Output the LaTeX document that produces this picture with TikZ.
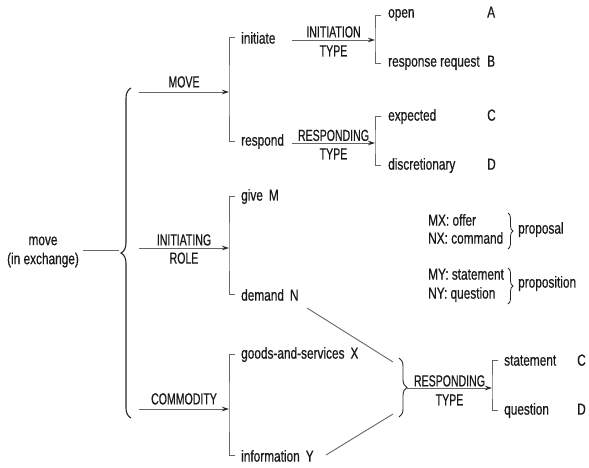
\documentclass[tikz,border=0pt]{standalone}
\usepackage{fontspec}
\setmainfont{Liberation Sans}[FakeStretch=0.74,FakeBold=0.6]
\newfontfamily\capf{Liberation Sans}[FakeStretch=0.66,FakeBold=0.6]
\usetikzlibrary{arrows.meta,decorations.pathreplacing,calc}
\begin{document}
\begin{tikzpicture}[x=1pt,y=-1pt,
  txt/.style={inner sep=0pt, font=\fontsize{16}{19}\selectfont, text=black!90},
  capslab/.style={txt, font=\capf\fontsize{16}{19}\selectfont},
  leaf/.style={txt, anchor=mid west},
  ln/.style={draw=black!60, line width=0.9pt},
  arr/.style={ln, -{Stealth[length=7pt,width=4.5pt,color=black!85]}},
  bk/.style={draw=black!60, line width=0.9pt},
  bigbrace/.style={draw=black!85, line width=1.1pt, decorate, decoration={brace, amplitude=#1}}]
\useasboundingbox (0,0) rectangle (589,467);

% root
\node[txt, align=center] (root) at (43,252) {move\\(in exchange)};
\coordinate (bigtip) at (119,250);
\draw[ln] (83,250) coordinate (rootR) -- (bigtip);
\coordinate (bbBot) at (131,418);
\coordinate (bbTop) at (131,88);
\draw[bigbrace=10pt] (bbBot) -- (bbTop);

% first-level systems
\coordinate (s1) at (139,92);  \coordinate (b1) at (229,92);
\coordinate (s2) at (139,248); \coordinate (b2) at (229,248);
\coordinate (s3) at (139,409); \coordinate (b3) at (229,409);
\draw[arr] (s1) -- node[capslab, above=4pt] (lmove) {MOVE} (b1);
\draw[arr] (s2) -- node[capslab, above=2pt] (linit) {INITIATING} node[capslab, below=4pt] (lrole) {ROLE} (b2);
\draw[arr] (s3) -- node[capslab, above=4pt] (lcomm) {COMMODITY} (b3);

\node[leaf] (initiate) at (241,41) {initiate};
\node[leaf] (respond) at (241,143) {respond};
\node[leaf] (give) at (241,198) {give\hspace{6pt}M};
\node[leaf] (demand) at (241,298) {demand\hspace{6pt}N};
\node[leaf] (goods) at (241,356) {goods-and-services\hspace{6pt}X};
\node[leaf] (info) at (241,459) {information\hspace{6pt}Y};

\draw[bk] ([xshift=-6pt]initiate.west) -| (b1) |- ([xshift=-6pt]respond.west);
\draw[bk] ([xshift=-6pt]give.west) -| (b2) |- ([xshift=-6pt]demand.west);
\draw[bk] ([xshift=-6pt]goods.west) -| (b3) |- ([xshift=-6pt]info.west);

% second-level systems
\coordinate (s4) at (292,40); \coordinate (b4) at (375,40);
\coordinate (s5) at (292,143); \coordinate (b5) at (375,143);
\draw[arr] (s4) -- node[capslab, above=2pt] (linitt) {INITIATION} node[capslab, below=5pt] (ltype1) {TYPE} (b4);
\draw[arr] (s5) -- node[capslab, above=1.5pt] (lresp1) {RESPONDING} node[capslab, below=5pt] (ltype2) {TYPE} (b5);

\node[leaf] (open) at (388,15) {open};
\node[leaf] (resreq) at (388,64) {response request};
\node[leaf] (expected) at (388,118) {expected};
\node[leaf] (discr) at (388,167) {discretionary};
\node[leaf] (A) at (487,15) {A};
\node[leaf] (B) at (487,64) {B};
\node[leaf] (C1) at (487,118) {C};
\node[leaf] (D1) at (487,167) {D};

\draw[bk] ([xshift=-7pt]open.west) -| (b4) |- ([xshift=-7pt]resreq.west);
\draw[bk] ([xshift=-7pt]expected.west) -| (b5) |- ([xshift=-7pt]discr.west);

% speech functions
\node[leaf] (mx) at (428,223) {MX: offer};
\node[leaf] (nx) at (428,241) {NX: command};
\node[leaf] (my) at (428,277) {MY: statement};
\node[leaf] (ny) at (428,296) {NY: question};
\coordinate (p1t) at (508,213); \coordinate (p1b) at (508,249);
\coordinate (p2t) at (508,268); \coordinate (p2b) at (508,304);
\draw[bigbrace=5pt, line width=0.8pt] (p1t) -- (p1b);
\draw[bigbrace=5pt, line width=0.8pt] (p2t) -- (p2b);
\node[leaf] (proposal) at (518,231) {proposal};
\node[leaf] (proposition) at (518,285) {proposition};

% combination
\coordinate (l1s) at (307,308); \coordinate (l1e) at (393,362);
\coordinate (l2s) at (326,455); \coordinate (l2e) at (393,414);
\draw[ln] (l1s) -- (l1e);
\draw[ln] (l2s) -- (l2e);
\coordinate (rbt) at (399,358); \coordinate (rbb) at (399,417);
\draw[bigbrace=8pt, line width=0.9pt] (rbt) -- (rbb);
\coordinate (s6) at (407,388); \coordinate (b6) at (492,388);
\draw[arr] (s6) -- node[capslab, above=1pt] (lresp2) {RESPONDING} node[capslab, below=6pt] (ltype3) {TYPE} (b6);
\node[leaf] (stmt) at (504,363) {statement};
\node[leaf] (quest) at (504,412) {question};
\node[leaf] (C2) at (577,363) {C};
\node[leaf] (D2) at (577,412) {D};
\draw[bk] ([xshift=-6pt]stmt.west) -| (b6) |- ([xshift=-6pt]quest.west);
\end{tikzpicture}
\end{document}
